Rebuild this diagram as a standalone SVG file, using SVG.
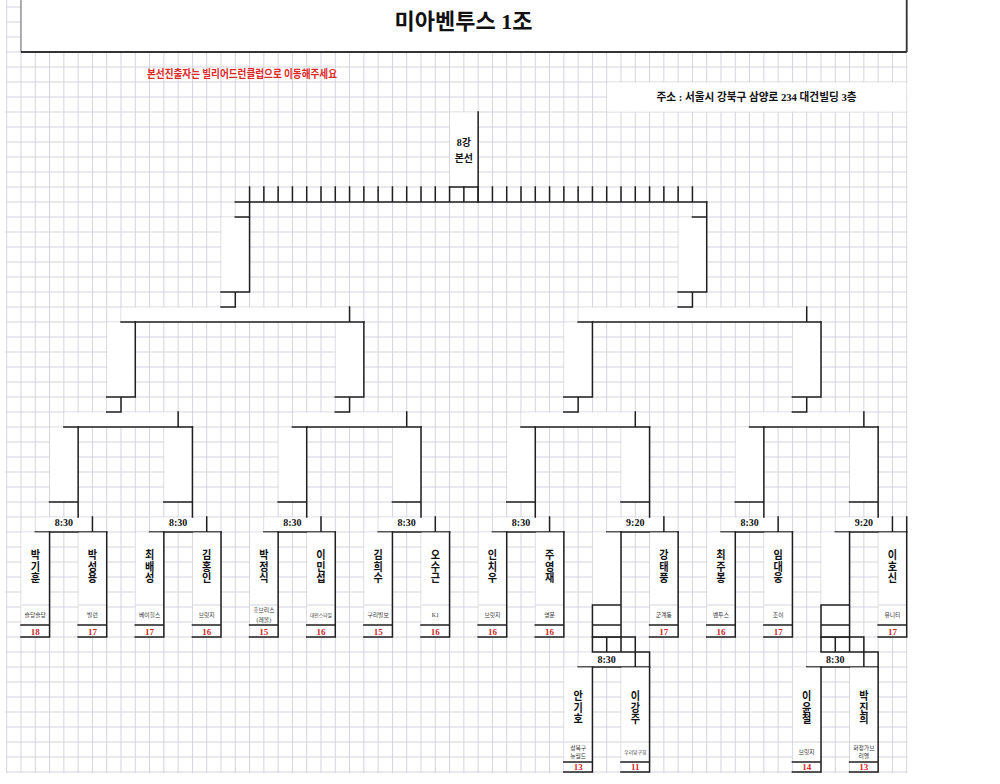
<svg xmlns="http://www.w3.org/2000/svg" width="1000" height="784" viewBox="0 0 1000 784">
<defs>
<pattern id="grid" x="20.5" y="51.5" width="14.285714" height="15" patternUnits="userSpaceOnUse"><path d="M0.5 0V15M0 0.5H14.285714" stroke="#d3d3dd" stroke-width="1" fill="none"/></pattern>
<style>
.w{fill:#fff}
.ln{fill:none;stroke:#1f1f1f;stroke-width:1.5;stroke-linecap:square}
.gl{fill:none;stroke:#d3d3dd;stroke-width:1}
text{font-family:"Liberation Serif","Noto Sans CJK KR",serif;font-weight:bold;text-anchor:middle;fill:#111}
.nm{font-size:11.5px;writing-mode:vertical-rl;text-orientation:upright;font-family:"Noto Sans CJK KR",sans-serif}
.tm{font-size:10px}
.tn{font-size:5.8px;font-weight:normal;fill:#333}
.tn5{font-size:4.8px;font-weight:normal;fill:#333}
.sc{font-size:9px;fill:#d02a2a}
</style>
</defs>
<rect width="1000" height="784" fill="#fff"/>
<rect x="6" y="0" width="901.5" height="773" fill="url(#grid)"/>

<g id="title">
<rect x="21" y="0" width="885.71" height="52" fill="#fff"/>
<path d="M21 0V52" stroke="#666" stroke-width="1"/>
<path d="M906.71 0V52M21 52H906.71" stroke="#333" stroke-width="1.8" fill="none"/>
<text x="463.5" y="28.5" style="font-size:22px">미아벤투스 1조</text>
</g>

<g id="notice">
<text x="242" y="77.5" style="font-size:11px;fill:#e02828;font-family:'Noto Sans CJK KR',sans-serif" textLength="190" lengthAdjust="spacingAndGlyphs">본선진출자는 빌리어드런클럽으로 이동해주세요</text>
</g>

<g id="address">
<rect class="w" x="607.21" y="82.5" width="299" height="29"/>
<text x="756.5" y="101" style="font-size:11px" textLength="200" lengthAdjust="spacingAndGlyphs">주소 : 서울시 강북구 삼양로 234 대건빌딩 3층</text>
</g>

<g id="final-8">
<rect class="w" x="450.07" y="112.5" width="27.57" height="74"/>
<path class="ln" d="M478.14 112V202M449.57 187H478.14"/>
<text x="463.86" y="146" style="font-size:10px">8강</text>
<text x="463.86" y="161.5" style="font-size:10px">본선</text>
</g>

<g id="bracket-fills">
<rect class="w" x="235.79" y="202.5" width="13.29" height="14"/>
<rect class="w" x="221.5" y="217.5" width="27.57" height="74"/>
<rect class="w" x="221.5" y="292.5" width="13.29" height="14"/>
<rect class="w" x="692.93" y="202.5" width="13.29" height="14"/>
<rect class="w" x="678.64" y="217.5" width="27.57" height="74"/>
<rect class="w" x="678.64" y="292.5" width="13.29" height="14"/>
<rect class="w" x="121.5" y="307.5" width="227.57" height="14"/>
<rect class="w" x="578.64" y="307.5" width="227.57" height="14"/>
<rect class="w" x="107.21" y="322.5" width="27.57" height="74"/>
<rect class="w" x="107.21" y="397.5" width="13.29" height="14"/>
<rect class="w" x="335.79" y="322.5" width="27.57" height="74"/>
<rect class="w" x="335.79" y="397.5" width="13.29" height="14"/>
<rect class="w" x="564.36" y="322.5" width="27.57" height="74"/>
<rect class="w" x="564.36" y="397.5" width="13.29" height="14"/>
<rect class="w" x="792.93" y="322.5" width="27.57" height="74"/>
<rect class="w" x="792.93" y="397.5" width="13.29" height="14"/>
<rect class="w" x="64.36" y="412.5" width="113.29" height="14"/>
<rect class="w" x="292.93" y="412.5" width="113.29" height="14"/>
<rect class="w" x="521.5" y="412.5" width="113.29" height="14"/>
<rect class="w" x="750.07" y="412.5" width="113.29" height="14"/>
<rect class="w" x="50.07" y="427.5" width="27.57" height="74"/>
<rect class="w" x="164.36" y="427.5" width="27.57" height="74"/>
<rect class="w" x="278.64" y="427.5" width="27.57" height="74"/>
<rect class="w" x="392.93" y="427.5" width="27.57" height="74"/>
<rect class="w" x="507.21" y="427.5" width="27.57" height="74"/>
<rect class="w" x="621.5" y="427.5" width="27.57" height="74"/>
<rect class="w" x="735.79" y="427.5" width="27.57" height="74"/>
<rect class="w" x="850.07" y="427.5" width="27.57" height="74"/>
<rect class="w" x="892.93" y="517.5" width="13.29" height="14"/>
<rect class="w" x="635.79" y="652.5" width="13.29" height="14"/>
<rect class="w" x="864.36" y="652.5" width="13.29" height="14"/>
</g>

<g id="time-labels">
<g id="t0"><rect class="w" x="35.79" y="517.5" width="56.14" height="14"/><text class="tm" x="63.86" y="526">8:30</text></g>
<g id="t1"><rect class="w" x="150.07" y="517.5" width="56.14" height="14"/><text class="tm" x="178.14" y="526">8:30</text></g>
<g id="t2"><rect class="w" x="264.36" y="517.5" width="56.14" height="14"/><text class="tm" x="292.43" y="526">8:30</text></g>
<g id="t3"><rect class="w" x="378.64" y="517.5" width="56.14" height="14"/><text class="tm" x="406.71" y="526">8:30</text></g>
<g id="t4"><rect class="w" x="492.93" y="517.5" width="56.14" height="14"/><text class="tm" x="521" y="526">8:30</text></g>
<g id="t5"><rect class="w" x="607.21" y="517.5" width="56.14" height="14"/><text class="tm" x="635.29" y="526">9:20</text></g>
<g id="t6"><rect class="w" x="721.5" y="517.5" width="56.14" height="14"/><text class="tm" x="749.57" y="526">8:30</text></g>
<g id="t7"><rect class="w" x="835.79" y="517.5" width="56.14" height="14"/><text class="tm" x="863.86" y="526">9:20</text></g>
<g id="ts5"><rect class="w" x="578.64" y="652.5" width="56.14" height="14"/><text class="tm" x="606.71" y="663">8:30</text></g>
<g id="ts7"><rect class="w" x="807.21" y="652.5" width="56.14" height="14"/><text class="tm" x="835.29" y="663">8:30</text></g>
</g>

<g id="connectors">
<path class="ln" d="M249.57 187V202M263.86 187V202M278.14 187V202M292.43 187V202M306.71 187V202M321 187V202M335.29 187V202M349.57 187V202M363.86 187V202M378.14 187V202M392.43 187V202M406.71 187V202M421 187V202M435.29 187V202M449.57 187V202M463.86 187V202M478.14 187V202M492.43 187V202M506.71 187V202M521 187V202M535.29 187V202M549.57 187V202M563.86 187V202M578.14 187V202M592.43 187V202M606.71 187V202M621 187V202M635.29 187V202M649.57 187V202M663.86 187V202M678.14 187V202M692.43 187V202M235.29 202H706.71"/>
<path class="ln" d="M249.57 202V292M235.29 217H249.57M221 292H249.57M235.29 292V307M221 307H235.29M706.71 202V292M692.43 217H706.71M678.14 292H706.71M692.43 292V307M678.14 307H692.43"/>
<path class="ln" d="M349.57 307V322M121 322H363.86M806.71 307V322M578.14 322H821"/>
<path class="ln" d="M135.29 322V397M106.71 397H135.29M121 397V412M106.71 412H121M363.86 322V397M335.29 397H363.86M349.57 397V412M335.29 412H349.57M592.43 322V397M563.86 397H592.43M578.14 397V412M563.86 412H578.14M821 322V397M792.43 397H821M806.71 397V412M792.43 412H806.71"/>
<path class="ln" d="M178.14 412V427M63.86 427H192.43M406.71 412V427M292.43 427H421M635.29 412V427M521 427H649.57M863.86 412V427M749.57 427H878.14"/>
<path class="ln" d="M78.14 427V517M49.57 502H78.14M92.43 517V532M35.29 532H106.71M192.43 427V517M163.86 502H192.43M206.71 517V532M149.57 532H221M306.71 427V517M278.14 502H306.71M321 517V532M263.86 532H335.29M421 427V517M392.43 502H421M435.29 517V532M378.14 532H449.57M535.29 427V517M506.71 502H535.29M549.57 517V532M492.43 532H563.86M649.57 427V517M621 502H649.57M663.86 517V532M606.71 532H678.14M763.86 427V517M735.29 502H763.86M778.14 517V532M721 532H792.43M878.14 427V517M849.57 502H878.14M892.43 517V532M835.29 532H906.71M906.71 517V532"/>
<path class="ln" d="M592.43 637V652M606.71 637V652M621 637V652M635.29 637V667M592.43 637H635.29M592.43 652H649.57M578.14 667H649.57M649.57 652V667M821 637V652M835.29 637V652M849.57 637V652M863.86 637V667M821 637H863.86M821 652H878.14M806.71 667H878.14M878.14 652V667"/>
</g>

<g id="players">
<g id="p-park-gihun"><rect class="w" x="21.5" y="532.5" width="27.57" height="104"/><path class="gl" d="M21.5 605H49"/><path class="ln" d="M49.57 532V637M21 625H49.57M21 637H49.57"/><text class="nm" transform="translate(35.29 0) scale(.88 1)" x="0" y="566.5">박기훈</text><text class="tn" x="35.29" y="617.3">슬당슬당</text><text class="sc" x="35.29" y="634.5">18</text></g>
<g id="p-park-seongyong"><rect class="w" x="78.64" y="532.5" width="27.57" height="104"/><path class="gl" d="M78.64 605H106.2"/><path class="ln" d="M106.71 532V637M78.14 625H106.71M78.14 637H106.71"/><text class="nm" transform="translate(92.43 0) scale(.88 1)" x="0" y="566.5">박성용</text><text class="tn" x="92.43" y="617.3">빌런</text><text class="sc" x="92.43" y="634.5">17</text></g>
<g id="p-choi-baeseong"><rect class="w" x="135.79" y="532.5" width="27.57" height="104"/><path class="gl" d="M135.79 605H163.4"/><path class="ln" d="M163.86 532V637M135.29 625H163.86M135.29 637H163.86"/><text class="nm" transform="translate(149.57 0) scale(.88 1)" x="0" y="566.5">최배성</text><text class="tn" x="149.57" y="617.3">베이힐스</text><text class="sc" x="149.57" y="634.5">17</text></g>
<g id="p-kim-hongin"><rect class="w" x="192.93" y="532.5" width="27.57" height="104"/><path class="gl" d="M192.93 605H220.5"/><path class="ln" d="M221 532V637M192.43 625H221M192.43 637H221"/><text class="nm" transform="translate(206.71 0) scale(.88 1)" x="0" y="566.5">김홍인</text><text class="tn" x="206.71" y="617.3">브릿지</text><text class="sc" x="206.71" y="634.5">16</text></g>
<g id="p-park-jeongsik"><rect class="w" x="250.07" y="532.5" width="27.57" height="104"/><path class="gl" d="M250.07 605H277.6"/><path class="ln" d="M278.14 532V637M249.57 625H278.14M249.57 637H278.14"/><text class="nm" transform="translate(263.86 0) scale(.88 1)" x="0" y="566.5">박정식</text><text class="tn" x="263.86" y="612">흥브리스</text><text class="tn" x="263.86" y="621.5">(레볼)</text><text class="sc" x="263.86" y="634.5">15</text></g>
<g id="p-lee-minseop"><rect class="w" x="307.21" y="532.5" width="27.57" height="104"/><path class="gl" d="M307.21 605H334.8"/><path class="ln" d="M335.29 532V637M306.71 625H335.29M306.71 637H335.29"/><text class="nm" transform="translate(321 0) scale(.88 1)" x="0" y="566.5">이민섭</text><text class="tn5" x="321" y="617">대인스타일</text><text class="sc" x="321" y="634.5">16</text></g>
<g id="p-kim-huisu"><rect class="w" x="364.36" y="532.5" width="27.57" height="104"/><path class="gl" d="M364.36 605H391.9"/><path class="ln" d="M392.43 532V637M363.86 625H392.43M363.86 637H392.43"/><text class="nm" transform="translate(378.14 0) scale(.88 1)" x="0" y="566.5">김희수</text><text class="tn" x="378.14" y="617.3">구리빌보</text><text class="sc" x="378.14" y="634.5">15</text></g>
<g id="p-oh-sugeun"><rect class="w" x="421.5" y="532.5" width="27.57" height="104"/><path class="gl" d="M421.5 605H449"/><path class="ln" d="M449.57 532V637M421 625H449.57M421 637H449.57"/><text class="nm" transform="translate(435.29 0) scale(.88 1)" x="0" y="566.5">오수근</text><text class="tn" x="435.29" y="617.3">K1</text><text class="sc" x="435.29" y="634.5">16</text></g>
<g id="p-in-chiu"><rect class="w" x="478.64" y="532.5" width="27.57" height="104"/><path class="gl" d="M478.64 605H506.2"/><path class="ln" d="M506.71 532V637M478.14 625H506.71M478.14 637H506.71"/><text class="nm" transform="translate(492.43 0) scale(.88 1)" x="0" y="566.5">인치우</text><text class="tn" x="492.43" y="617.3">브릿지</text><text class="sc" x="492.43" y="634.5">16</text></g>
<g id="p-ju-yeongjae"><rect class="w" x="535.79" y="532.5" width="27.57" height="104"/><path class="gl" d="M535.79 605H563.4"/><path class="ln" d="M563.86 532V637M535.29 625H563.86M535.29 637H563.86"/><text class="nm" transform="translate(549.57 0) scale(.88 1)" x="0" y="566.5">주영재</text><text class="tn" x="549.57" y="617.3">명문</text><text class="sc" x="549.57" y="634.5">16</text></g>
<g id="p5-bye"><rect class="w" x="592.93" y="532.5" width="27.57" height="104"/><path class="ln" d="M621 532V637M592.43 605H621M592.43 625H621M592.43 637H621M592.43 605V637"/></g>
<g id="p-kang-taepung"><rect class="w" x="650.07" y="532.5" width="27.57" height="104"/><path class="gl" d="M650.07 605H677.6"/><path class="ln" d="M678.14 532V637M649.57 625H678.14M649.57 637H678.14"/><text class="nm" transform="translate(663.86 0) scale(.88 1)" x="0" y="566.5">강태풍</text><text class="tn" x="663.86" y="617.3">군계동</text><text class="sc" x="663.86" y="634.5">17</text></g>
<g id="p-choi-jubong"><rect class="w" x="707.21" y="532.5" width="27.57" height="104"/><path class="gl" d="M707.21 605H734.8"/><path class="ln" d="M735.29 532V637M706.71 625H735.29M706.71 637H735.29"/><text class="nm" transform="translate(721 0) scale(.88 1)" x="0" y="566.5">최주봉</text><text class="tn" x="721" y="617.3">벤투스</text><text class="sc" x="721" y="634.5">16</text></g>
<g id="p-im-daeung"><rect class="w" x="764.36" y="532.5" width="27.57" height="104"/><path class="gl" d="M764.36 605H791.9"/><path class="ln" d="M792.43 532V637M763.86 625H792.43M763.86 637H792.43"/><text class="nm" transform="translate(778.14 0) scale(.88 1)" x="0" y="566.5">임대웅</text><text class="tn" x="778.14" y="617.3">조이</text><text class="sc" x="778.14" y="634.5">17</text></g>
<g id="p7-bye"><rect class="w" x="821.5" y="532.5" width="27.57" height="104"/><path class="ln" d="M849.57 532V637M821 605H849.57M821 625H849.57M821 637H849.57M821 605V637"/></g>
<g id="p-lee-hosin"><rect class="w" x="878.64" y="532.5" width="27.57" height="104"/><path class="gl" d="M878.64 605H906.2"/><path class="ln" d="M906.71 532V637M878.14 625H906.71M878.14 637H906.71"/><text class="nm" transform="translate(892.43 0) scale(.88 1)" x="0" y="566.5">이호신</text><text class="tn" x="892.43" y="617.3">유니티</text><text class="sc" x="892.43" y="634.5">17</text></g>

<g id="p-an-giho"><rect class="w" x="564.36" y="667.5" width="27.57" height="104"/><path class="gl" d="M564.36 742H591.9"/><path class="ln" d="M592.43 667V772M563.86 762H592.43M563.86 772H592.43"/><text class="nm" transform="translate(578.14 0) scale(.88 1)" x="0" y="707.5">안기호</text><text class="tn" x="578.14" y="749.5">성북구</text><text class="tn" x="578.14" y="757.8">뉴월드</text><text class="sc" x="578.14" y="770">13</text></g>
<g id="p-lee-gangju"><rect class="w" x="621.5" y="667.5" width="27.57" height="104"/><path class="gl" d="M621.5 742H649"/><path class="ln" d="M649.57 667V772M621 762H649.57M621 772H649.57"/><text class="nm" transform="translate(635.29 0) scale(.88 1)" x="0" y="707.5">이강주</text><text class="tn5" x="635.29" y="754">우리당구회</text><text class="sc" x="635.29" y="770">11</text></g>
<g id="p-lee-yuncheol"><rect class="w" x="792.93" y="667.5" width="27.57" height="104"/><path class="gl" d="M792.93 742H820.5"/><path class="ln" d="M821 667V772M792.43 762H821M792.43 772H821"/><text class="nm" transform="translate(806.71 0) scale(.88 1)" x="0" y="707.5">이윤철</text><text class="tn" x="806.71" y="754.3">브릿지</text><text class="sc" x="806.71" y="770">14</text></g>
<g id="p-park-jinhui"><rect class="w" x="850.07" y="667.5" width="27.57" height="104"/><path class="gl" d="M850.07 742H877.6"/><path class="ln" d="M878.14 667V772M849.57 762H878.14M849.57 772H878.14"/><text class="nm" transform="translate(863.86 0) scale(.88 1)" x="0" y="707.5">박진희</text><text class="tn" x="863.86" y="749.5">화정가브</text><text class="tn" x="863.86" y="757.8">리엘</text><text class="sc" x="863.86" y="770">13</text></g>
</g>
</svg>
